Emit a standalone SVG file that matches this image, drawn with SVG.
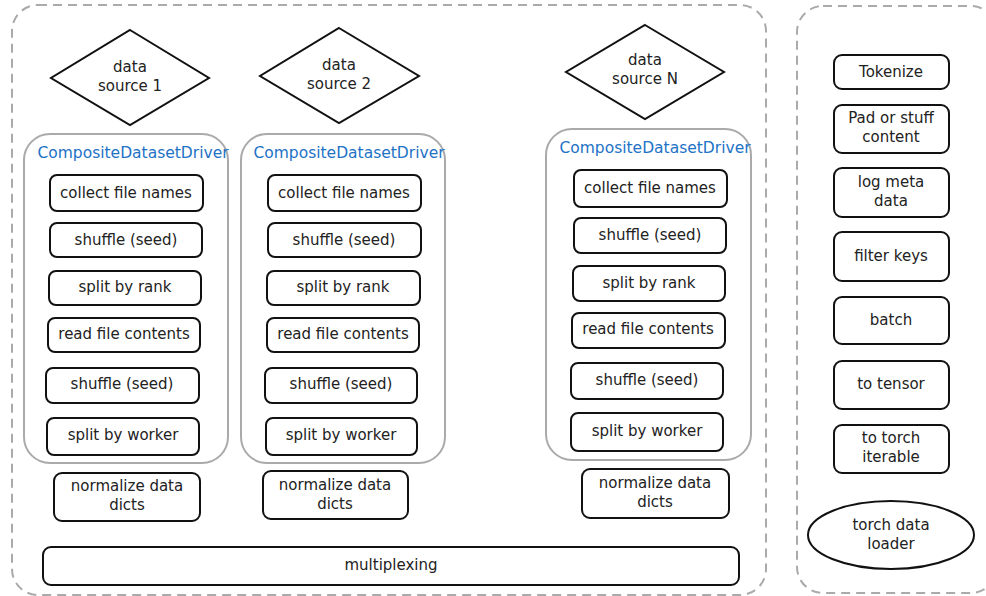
<svg xmlns="http://www.w3.org/2000/svg" width="986" height="596" viewBox="0 0 986 596">
<style>
text{font-family:"DejaVu Sans",Verdana,sans-serif;font-size:15px;fill:#222;text-anchor:middle}
.grp{fill:none;stroke:#aaa;stroke-width:2;stroke-dasharray:9 6}
.drv{fill:#fff;stroke:#aaa;stroke-width:2}
.box{fill:#fff;stroke:#111;stroke-width:2}
.lbl{fill:#2272c6;font-size:15.5px}
</style>
<rect width="986" height="596" fill="#fff"/>
<g id="pipeline-group"><rect class="grp" x="12" y="5" width="754" height="590" rx="26"/></g>
<g id="torch-group"><rect class="grp" x="797" y="6" width="200" height="587" rx="26"/></g>
<g id="connectors"/>

<g id="source1"><polygon class="box" points="130,30 209,78 130,125 51,78"/><text x="130" y="72">data</text><text x="130" y="91">source 1</text></g>
<g id="source2"><polygon class="box" points="339,28 419,76 339,123 260,76"/><text x="339" y="70">data</text><text x="339" y="89">source 2</text></g>
<g id="sourceN"><polygon class="box" points="645,25 724,72 645,119 566,72"/><text x="645" y="65">data</text><text x="645" y="84">source N</text></g>

<g id="driver1">
<rect class="drv" x="24" y="134" width="204" height="329" rx="26"/>
<text class="lbl" x="133" y="158">CompositeDatasetDriver</text>
<g id="d1-collect"><rect class="box" x="50" y="175" width="153" height="36" rx="7"/><text x="126" y="198">collect file names</text></g>
<g id="d1-shuffle1"><rect class="box" x="50" y="223" width="152" height="34" rx="7"/><text x="126" y="245">shuffle (seed)</text></g>
<g id="d1-rank"><rect class="box" x="49" y="271" width="152" height="34" rx="7"/><text x="125" y="292">split by rank</text></g>
<g id="d1-read"><rect class="box" x="48" y="318" width="152" height="34" rx="7"/><text x="124" y="339">read file contents</text></g>
<g id="d1-shuffle2"><rect class="box" x="46" y="368" width="153" height="35" rx="7"/><text x="122" y="389">shuffle (seed)</text></g>
<g id="d1-worker"><rect class="box" x="47" y="418" width="152" height="37" rx="7"/><text x="123" y="440">split by worker</text></g>
</g>
<g id="normalize1"><rect class="box" x="54" y="473" width="146" height="48" rx="8"/><text x="127" y="491">normalize data</text><text x="127" y="510">dicts</text></g>

<g id="driver2">
<rect class="drv" x="241" y="134" width="204" height="329" rx="26"/>
<text class="lbl" x="349" y="158">CompositeDatasetDriver</text>
<g id="d2-collect"><rect class="box" x="268" y="175" width="153" height="36" rx="7"/><text x="344" y="198">collect file names</text></g>
<g id="d2-shuffle1"><rect class="box" x="268" y="223" width="153" height="34" rx="7"/><text x="344" y="245">shuffle (seed)</text></g>
<g id="d2-rank"><rect class="box" x="267" y="271" width="153" height="34" rx="7"/><text x="343" y="292">split by rank</text></g>
<g id="d2-read"><rect class="box" x="267" y="318" width="152" height="34" rx="7"/><text x="343" y="339">read file contents</text></g>
<g id="d2-shuffle2"><rect class="box" x="265" y="368" width="152" height="35" rx="7"/><text x="341" y="389">shuffle (seed)</text></g>
<g id="d2-worker"><rect class="box" x="266" y="418" width="151" height="37" rx="7"/><text x="341" y="440">split by worker</text></g>
</g>
<g id="normalize2"><rect class="box" x="263" y="471" width="145" height="48" rx="8"/><text x="335" y="490">normalize data</text><text x="335" y="509">dicts</text></g>

<g id="driverN">
<rect class="drv" x="546" y="129" width="205" height="331" rx="26"/>
<text class="lbl" x="655" y="153">CompositeDatasetDriver</text>
<g id="dN-collect"><rect class="box" x="574" y="170" width="153" height="37" rx="7"/><text x="650" y="193">collect file names</text></g>
<g id="dN-shuffle1"><rect class="box" x="574" y="218" width="152" height="35" rx="7"/><text x="650" y="240">shuffle (seed)</text></g>
<g id="dN-rank"><rect class="box" x="573" y="266" width="152" height="35" rx="7"/><text x="649" y="288">split by rank</text></g>
<g id="dN-read"><rect class="box" x="572" y="313" width="153" height="35" rx="7"/><text x="648" y="334">read file contents</text></g>
<g id="dN-shuffle2"><rect class="box" x="571" y="363" width="152" height="36" rx="7"/><text x="647" y="385">shuffle (seed)</text></g>
<g id="dN-worker"><rect class="box" x="571" y="413" width="152" height="38" rx="7"/><text x="647" y="436">split by worker</text></g>
</g>
<g id="normalizeN"><rect class="box" x="582" y="469" width="147" height="49" rx="8"/><text x="655" y="488">normalize data</text><text x="655" y="507">dicts</text></g>

<g id="multiplexing"><rect class="box" x="43" y="547" width="696" height="38" rx="8"/><text x="391" y="570">multiplexing</text></g>

<g id="tokenize"><rect class="box" x="834" y="55" width="115" height="34" rx="8"/><text x="891" y="77">Tokenize</text></g>
<g id="pad"><rect class="box" x="834" y="105" width="115" height="48" rx="8"/><text x="891" y="123">Pad or stuff</text><text x="891" y="142">content</text></g>
<g id="logmeta"><rect class="box" x="834" y="168" width="115" height="49" rx="8"/><text x="891" y="187">log meta</text><text x="891" y="206">data</text></g>
<g id="filterkeys"><rect class="box" x="834" y="232" width="115" height="49" rx="8"/><text x="891" y="261">filter keys</text></g>
<g id="batch"><rect class="box" x="834" y="297" width="115" height="47" rx="8"/><text x="891" y="325">batch</text></g>
<g id="totensor"><rect class="box" x="834" y="361" width="115" height="48" rx="8"/><text x="891" y="389">to tensor</text></g>
<g id="toiterable"><rect class="box" x="834" y="425" width="115" height="48" rx="8"/><text x="891" y="443">to torch</text><text x="891" y="462">iterable</text></g>
<g id="dataloader"><ellipse class="box" cx="891" cy="535" rx="83" ry="34"/><text x="891" y="530">torch data</text><text x="891" y="549">loader</text></g>
</svg>
